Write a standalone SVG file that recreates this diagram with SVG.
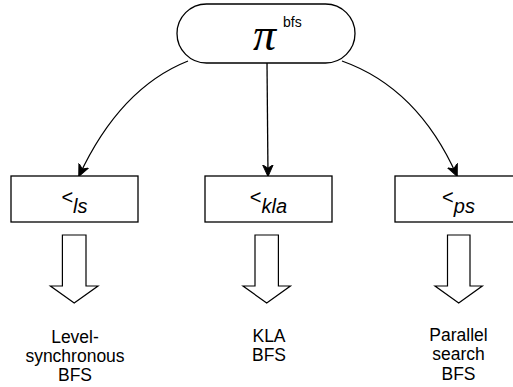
<svg xmlns="http://www.w3.org/2000/svg" width="513" height="387" viewBox="0 0 513 387">
  <defs>
    <marker id="arrow" markerUnits="userSpaceOnUse" markerWidth="12" markerHeight="12" viewBox="0 0 10 10" refX="9.5" refY="5" orient="auto">
      <path d="M0,0.5 L10,5 L0,9.5 L3,5 Z" fill="#000" stroke="#000" stroke-width="0.8" stroke-linejoin="miter"/>
    </marker>
    <style>
      .shape { fill: #fff; stroke: #000; stroke-width: 1.3; }
      .edge { fill: none; stroke: #000; stroke-width: 1.3; marker-end: url(#arrow); }
      .flex { fill: #fff; stroke: #000; stroke-width: 1.2; stroke-linejoin: miter; }
      .lbl { font-family: "Liberation Sans", Arial, sans-serif; font-size: 20px; text-anchor: middle; fill: #000; }
      .cap { font-family: "Liberation Sans", Arial, sans-serif; font-size: 17.5px; text-anchor: middle; fill: #000; }
      .it { font-style: italic; }
    </style>
  </defs>

  <!-- root node -->
  <g id="root">
    <rect class="shape" x="177" y="4" width="178" height="59" rx="29.5" ry="29.5"/>
    <text x="253" y="50" font-family="'Liberation Serif', 'Times New Roman', serif" font-size="46" font-style="italic" fill="#000">π</text>
    <text x="283" y="27" font-family="'Liberation Sans', Arial, sans-serif" font-size="14" fill="#000">bfs</text>
  </g>

  <!-- connectors -->
  <g id="connectors">
    <path class="edge" d="M188,61 Q120,88 79,176"/>
    <path class="edge" d="M267,63 L268,176"/>
    <path class="edge" d="M342,61 Q418,88 457,176"/>
  </g>

  <!-- order nodes -->
  <g id="order-ls">
    <rect class="shape" x="11" y="176" width="127" height="46"/>
    <text class="lbl" x="74.5" y="204">&lt;<tspan class="it" dy="9">ls</tspan></text>
  </g>
  <g id="order-kla">
    <rect class="shape" x="205" y="176" width="127" height="46"/>
    <text class="lbl" x="268.5" y="204">&lt;<tspan class="it" dy="9">kla</tspan></text>
  </g>
  <g id="order-ps">
    <rect class="shape" x="395" y="176" width="127" height="46"/>
    <text class="lbl" x="458.5" y="204">&lt;<tspan class="it" dy="9">ps</tspan></text>
  </g>

  <!-- block arrows to algorithms -->
  <g id="flex-ls">
    <path class="flex" d="M62.4,235 H86 V286 H98 L74.2,303 L50.4,286 H62.4 Z"/>
  </g>
  <g id="flex-kla">
    <path class="flex" d="M255,235 H278.4 V286 H290.4 L266.7,303 L243,286 H255 Z"/>
  </g>
  <g id="flex-ps">
    <path class="flex" d="M447.5,235 H470 V286 H482.3 L458.7,303 L435,286 H447.5 Z"/>
  </g>

  <!-- algorithm labels -->
  <g id="alg-ls">
    <text class="cap" x="75" y="343">Level-</text>
    <text class="cap" x="75" y="362">synchronous</text>
    <text class="cap" x="75" y="381">BFS</text>
  </g>
  <g id="alg-kla">
    <text class="cap" x="269" y="342">KLA</text>
    <text class="cap" x="269" y="361">BFS</text>
  </g>
  <g id="alg-ps">
    <text class="cap" x="458.5" y="341">Parallel</text>
    <text class="cap" x="458.5" y="360">search</text>
    <text class="cap" x="458.5" y="380">BFS</text>
  </g>
</svg>
